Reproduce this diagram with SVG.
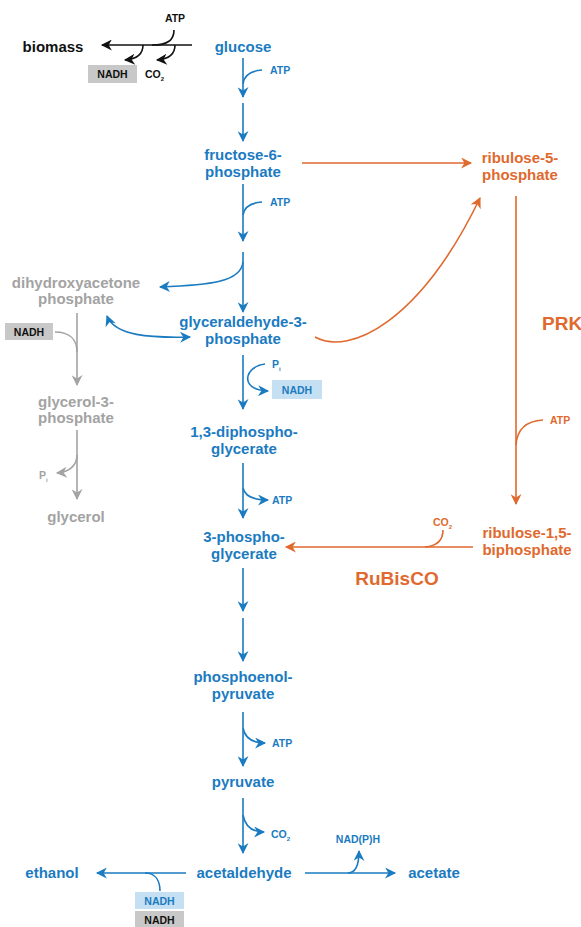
<svg xmlns="http://www.w3.org/2000/svg" width="581" height="927" viewBox="0 0 581 927">
<defs>
<style>
text{font-family:"Liberation Sans",Arial,sans-serif;font-weight:bold}
.n{font-size:15px;text-anchor:middle}
.s{font-size:10.5px}
.sub{font-size:6px}
.big{font-size:19px}
.b{fill:#1b7bc1}.o{fill:#e0692e}.g{fill:#a3a3a3}.k{fill:#111}
.lb{stroke:#1b7bc1}.lo{stroke:#e0692e}.lg{stroke:#a3a3a3}.lk{stroke:#111}
path{fill:none;stroke-width:1.6}
</style>
<marker id="ab" viewBox="0 0 10 10" refX="9" refY="5" markerWidth="12" markerHeight="11" markerUnits="userSpaceOnUse" orient="auto-start-reverse"><path d="M0,0 L10,5 L0,10 L3,5 z" style="fill:#1b7bc1;stroke:none"/></marker>
<marker id="ao" viewBox="0 0 10 10" refX="9" refY="5" markerWidth="12" markerHeight="11" markerUnits="userSpaceOnUse" orient="auto"><path d="M0,0 L10,5 L0,10 L3,5 z" style="fill:#e0692e;stroke:none"/></marker>
<marker id="ag" viewBox="0 0 10 10" refX="9" refY="5" markerWidth="12" markerHeight="11" markerUnits="userSpaceOnUse" orient="auto"><path d="M0,0 L10,5 L0,10 L3,5 z" style="fill:#a3a3a3;stroke:none"/></marker>
<marker id="ak" viewBox="0 0 10 10" refX="9" refY="5" markerWidth="12" markerHeight="11" markerUnits="userSpaceOnUse" orient="auto"><path d="M0,0 L10,5 L0,10 L3,5 z" style="fill:#111;stroke:none"/></marker>
</defs>

<g id="connectors">
<!-- black biomass -->
<path class="lk" d="M192,45 L102,45" marker-end="url(#ak)"/>
<path class="lk" d="M174,30 C174,40 168,45 152,45"/>
<path class="lk" d="M143,45 C143,54 138,59 125,60" marker-end="url(#ak)"/>
<path class="lk" d="M175,45 C175,54 170,59 157,60" marker-end="url(#ak)"/>
<!-- blue main column -->
<path class="lb" d="M243,58 L243,97" marker-end="url(#ab)"/>
<path class="lb" d="M262,70 C250,71 244,76 243,84"/>
<path class="lb" d="M243,103 L243,141" marker-end="url(#ab)"/>
<path class="lb" d="M243,184 L243,241" marker-end="url(#ab)"/>
<path class="lb" d="M262,202 C250,203 244,208 243,215"/>
<path class="lb" d="M243,252 L243,312" marker-end="url(#ab)"/>
<path class="lb" d="M243,262 C241,282 210,285 160,287" marker-end="url(#ab)"/>
<path class="lb" d="M107,316 C115,336 150,338 190,337" marker-start="url(#ab)" marker-end="url(#ab)"/>
<path class="lb" d="M243,355 L243,409" marker-end="url(#ab)"/>
<path class="lb" d="M265,364 C245,366 238,390 268,391" marker-end="url(#ab)"/>
<path class="lb" d="M243,463 L243,518" marker-end="url(#ab)"/>
<path class="lb" d="M243,488 C245,497 255,500 268,500" marker-end="url(#ab)"/>
<path class="lb" d="M243,568 L243,611" marker-end="url(#ab)"/>
<path class="lb" d="M243,618 L243,661" marker-end="url(#ab)"/>
<path class="lb" d="M243,712 L243,766" marker-end="url(#ab)"/>
<path class="lb" d="M243,728 C245,738 252,743 265,743" marker-end="url(#ab)"/>
<path class="lb" d="M243,798 L243,853" marker-end="url(#ab)"/>
<path class="lb" d="M243,815 C245,826 252,832 264,832" marker-end="url(#ab)"/>
<path class="lb" d="M186,873 L97,873" marker-end="url(#ab)"/>
<path class="lb" d="M145,873 C155,873 160,880 160,891"/>
<path class="lb" d="M305,873 L395,873" marker-end="url(#ab)"/>
<path class="lb" d="M348,873 C355,873 359,865 359,851" marker-end="url(#ab)"/>
<!-- orange -->
<path class="lo" d="M302,163 L471,163" marker-end="url(#ao)"/>
<path class="lo" d="M315,337 C350,356 420,322 480,198" marker-end="url(#ao)"/>
<path class="lo" d="M516,196 L516,504" marker-end="url(#ao)"/>
<path class="lo" d="M543,420 C525,421 517,430 516,445"/>
<path class="lo" d="M473,547 L286,547" marker-end="url(#ao)"/>
<path class="lo" d="M443,530 C443,540 437,546 425,547"/>
<!-- gray -->
<path class="lg" d="M77,313 L77,385" marker-end="url(#ag)"/>
<path class="lg" d="M55,332 C70,332 77,340 77,352"/>
<path class="lg" d="M77,430 L77,499" marker-end="url(#ag)"/>
<path class="lg" d="M77,455 C77,465 70,472 57,473" marker-end="url(#ag)"/>
</g>

<g id="biomass"><text class="n k" x="53" y="52">biomass</text></g>
<g id="glucose"><text class="n b" x="243" y="52">glucose</text></g>
<g id="fructose-6-phosphate"><text class="n b" x="243" y="160">fructose-6-</text><text class="n b" x="243" y="177">phosphate</text></g>
<g id="glyceraldehyde-3-phosphate"><text class="n b" x="243" y="327">glyceraldehyde-3-</text><text class="n b" x="243" y="344">phosphate</text></g>
<g id="dihydroxyacetone-phosphate"><text class="n g" x="76" y="288">dihydroxyacetone</text><text class="n g" x="76" y="304">phosphate</text></g>
<g id="glycerol-3-phosphate"><text class="n g" x="76" y="407">glycerol-3-</text><text class="n g" x="76" y="423">phosphate</text></g>
<g id="glycerol"><text class="n g" x="76" y="522">glycerol</text></g>
<g id="diphosphoglycerate"><text class="n b" x="244" y="437">1,3-diphospho-</text><text class="n b" x="244" y="454">glycerate</text></g>
<g id="phosphoglycerate"><text class="n b" x="244" y="542">3-phospho-</text><text class="n b" x="244" y="559">glycerate</text></g>
<g id="phosphoenolpyruvate"><text class="n b" x="243" y="682">phosphoenol-</text><text class="n b" x="243" y="699">pyruvate</text></g>
<g id="pyruvate"><text class="n b" x="243" y="787">pyruvate</text></g>
<g id="acetaldehyde"><text class="n b" x="244" y="878">acetaldehyde</text></g>
<g id="ethanol"><text class="n b" x="52" y="878">ethanol</text></g>
<g id="acetate"><text class="n b" x="434" y="878">acetate</text></g>
<g id="ribulose-5-phosphate"><text class="n o" x="520" y="163">ribulose-5-</text><text class="n o" x="520" y="180">phosphate</text></g>
<g id="ribulose-1-5-biphosphate"><text class="n o" x="527" y="538">ribulose-1,5-</text><text class="n o" x="527" y="555">biphosphate</text></g>

<g id="labels">
<text class="s k" x="175" y="22" text-anchor="middle">ATP</text>
<rect x="88" y="65" width="49" height="18" fill="#c8c8c8"/>
<text class="s k" x="112.5" y="78" text-anchor="middle">NADH</text>
<text class="s k" x="145" y="78">CO<tspan class="sub" dy="3">2</tspan></text>
<text class="s b" x="270" y="74">ATP</text>
<text class="s b" x="270" y="206">ATP</text>
<text class="s b" x="272" y="368">P<tspan class="sub" dy="3">i</tspan></text>
<rect x="272" y="380" width="50" height="19" fill="#c6e0f3"/>
<text class="s b" x="297" y="394" text-anchor="middle">NADH</text>
<text class="s b" x="272" y="504">ATP</text>
<text class="s b" x="272" y="747">ATP</text>
<text class="s b" x="271" y="838">CO<tspan class="sub" dy="3">2</tspan></text>
<text class="s b" x="358" y="843" text-anchor="middle">NAD(P)H</text>
<rect x="135" y="892" width="49" height="17" fill="#c6e0f3"/>
<text class="s b" x="159.5" y="904.5" text-anchor="middle">NADH</text>
<rect x="135" y="911" width="49" height="17" fill="#c8c8c8"/>
<text class="s k" x="159.5" y="924" text-anchor="middle">NADH</text>
<rect x="5" y="323" width="48" height="17" fill="#c8c8c8"/>
<text class="s k" x="29" y="335.5" text-anchor="middle">NADH</text>
<text class="s g" x="39" y="479">P<tspan class="sub" dy="3">i</tspan></text>
<text class="s o" x="550" y="424">ATP</text>
<text class="s o" x="433" y="526">CO<tspan class="sub" dy="3">2</tspan></text>
<text class="big o" x="397" y="585" text-anchor="middle">RuBisCO</text>
<text class="big o" x="542" y="330">PRK</text>
</g>
</svg>
